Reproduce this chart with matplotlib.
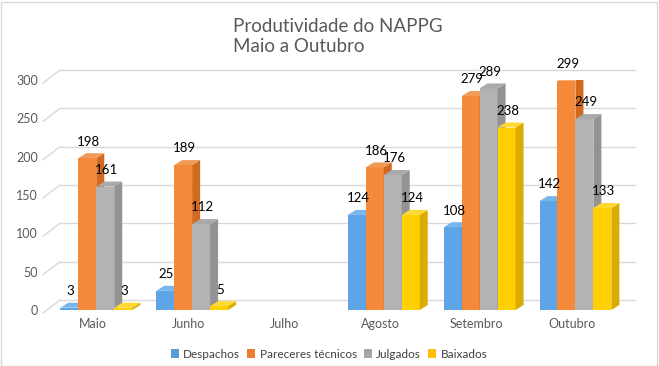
import numpy as np
import matplotlib
matplotlib.use("Agg")
import matplotlib.pyplot as plt
from matplotlib.patches import Polygon, Rectangle, Patch

plt.rcParams['font.family'] = ['Lato', 'DejaVu Sans']

# data
meses = ['Maio', 'Junho', 'Julho', 'Agosto', 'Setembro', 'Outubro']
series = ['Despachos', 'Pareceres técnicos', 'Julgados', 'Baixados']
despachos = [3, 25, None, 124, 108, 142]
pareceres = [198, 189, None, 186, 279, 299]
julgados = [161, 112, None, 176, 289, 249]
baixados = [3, 5, None, 124, 238, 133]
valores = [despachos, pareceres, julgados, baixados]
yticks = [0, 50, 100, 150, 200, 250, 300]

# colours: front, side, top
cores = [
    ('#5DA5E6', '#4A8CC8', '#79B6EC'),
    ('#F5893A', '#D2691F', '#F09A56'),
    ('#B3B3B3', '#939393', '#A9A9A9'),
    ('#FFCF00', '#DDAA00', '#FFD832'),
]
legenda_cor = ['#5B9BD5', '#ED7D31', '#A5A5A5', '#FFC000']

W, H = 659, 366
fig = plt.figure(figsize=(W / 100, H / 100), dpi=100)
ax_l, ax_r, ax_b, ax_t = 45, 620, 310, 80
ax = fig.add_axes([ax_l / W, 1 - ax_b / H, (ax_r - ax_l) / W, (ax_b - ax_t) / H])
ax.set_xlim(-0.5, len(meses) - 0.5)
ax.set_ylim(0, 300)
for s in ax.spines.values():
    s.set_visible(False)
ax.patch.set_alpha(0)

# pixel -> data conversion for the 3D offsets
px_x = (ax_r - ax_l) / (len(meses))
px_y = (ax_b - ax_t) / 300.0

def off(dxp, dyp):
    return dxp / px_x, dyp / px_y

# back-wall gridlines with diagonal floor/wall ticks
bx, by = off(15, 10)
fx, fy = off(-2, -3)
for v in yticks:
    ax.plot([-0.5 + bx, len(meses) - 0.5 + bx], [v + by, v + by],
            color='#D9D9D9', lw=1, zorder=0, clip_on=False)
    ax.plot([-0.5 + fx, -0.5 + bx], [v + fy, v + by],
            color='#D9D9D9', lw=1, zorder=0, clip_on=False)

ax.set_yticks(yticks)
ax.set_xticks(range(len(meses)))
ax.set_xticklabels(meses)
ax.tick_params(length=0, colors='#595959', labelsize=9)
ax.tick_params(axis='y', pad=5)
ax.tick_params(axis='x', pad=6)

# 3D-looking bars
w = 0.1875
shift = 0.035
ddx, ddy = off(8, 5)
z = 2
for i in range(len(meses)):
    for j, serie in enumerate(valores):
        v = serie[i]
        if v is None:
            continue
        x0 = i + shift - 2 * w + j * w
        fr, sd, tp = cores[j]
        ax.bar(x0, v, width=w, align='edge', color=fr, zorder=z)
        ax.add_patch(Polygon([(x0 + w, 0), (x0 + w, v), (x0 + w + ddx, v + ddy),
                              (x0 + w + ddx, ddy)], closed=True, color=sd, zorder=z + 0.1,
                             lw=0))
        ax.add_patch(Polygon([(x0, v), (x0 + w, v), (x0 + w + ddx, v + ddy),
                              (x0 + ddx, v + ddy)], closed=True, color=tp, zorder=z + 0.2,
                             lw=0))
        z += 1
        ax.annotate(str(v), (x0 + w / 2, v), xytext=(1, 12), textcoords='offset points',
                    ha='center', va='center', fontsize=9.5, color='black', zorder=100)

# title
fig.text(233 / W, 1 - 27 / H, 'Produtividade do NAPPG', fontsize=13.5, color='#595959',
         ha='left', va='center')
fig.text(233 / W, 1 - 46 / H, 'Maio a Outubro', fontsize=13.5, color='#595959',
         ha='left', va='center')

# legend
handles = [Patch(facecolor=c, edgecolor='none') for c in legenda_cor]
fig.legend(handles, series, loc='center', bbox_to_anchor=(329 / W, 1 - 354 / H), ncol=4,
           frameon=False, fontsize=8.5, handlelength=0.7, handleheight=0.7,
           handletextpad=0.35, columnspacing=0.6, labelcolor='#404040')

# chart border
fig.add_artist(Rectangle((0.5 / W, 0.5 / H), (W - 3) / W, (H - 2) / H, transform=fig.transFigure,
                         fill=False, edgecolor='#D9D9D9', lw=1))

fig.savefig('out.png', dpi=100)
